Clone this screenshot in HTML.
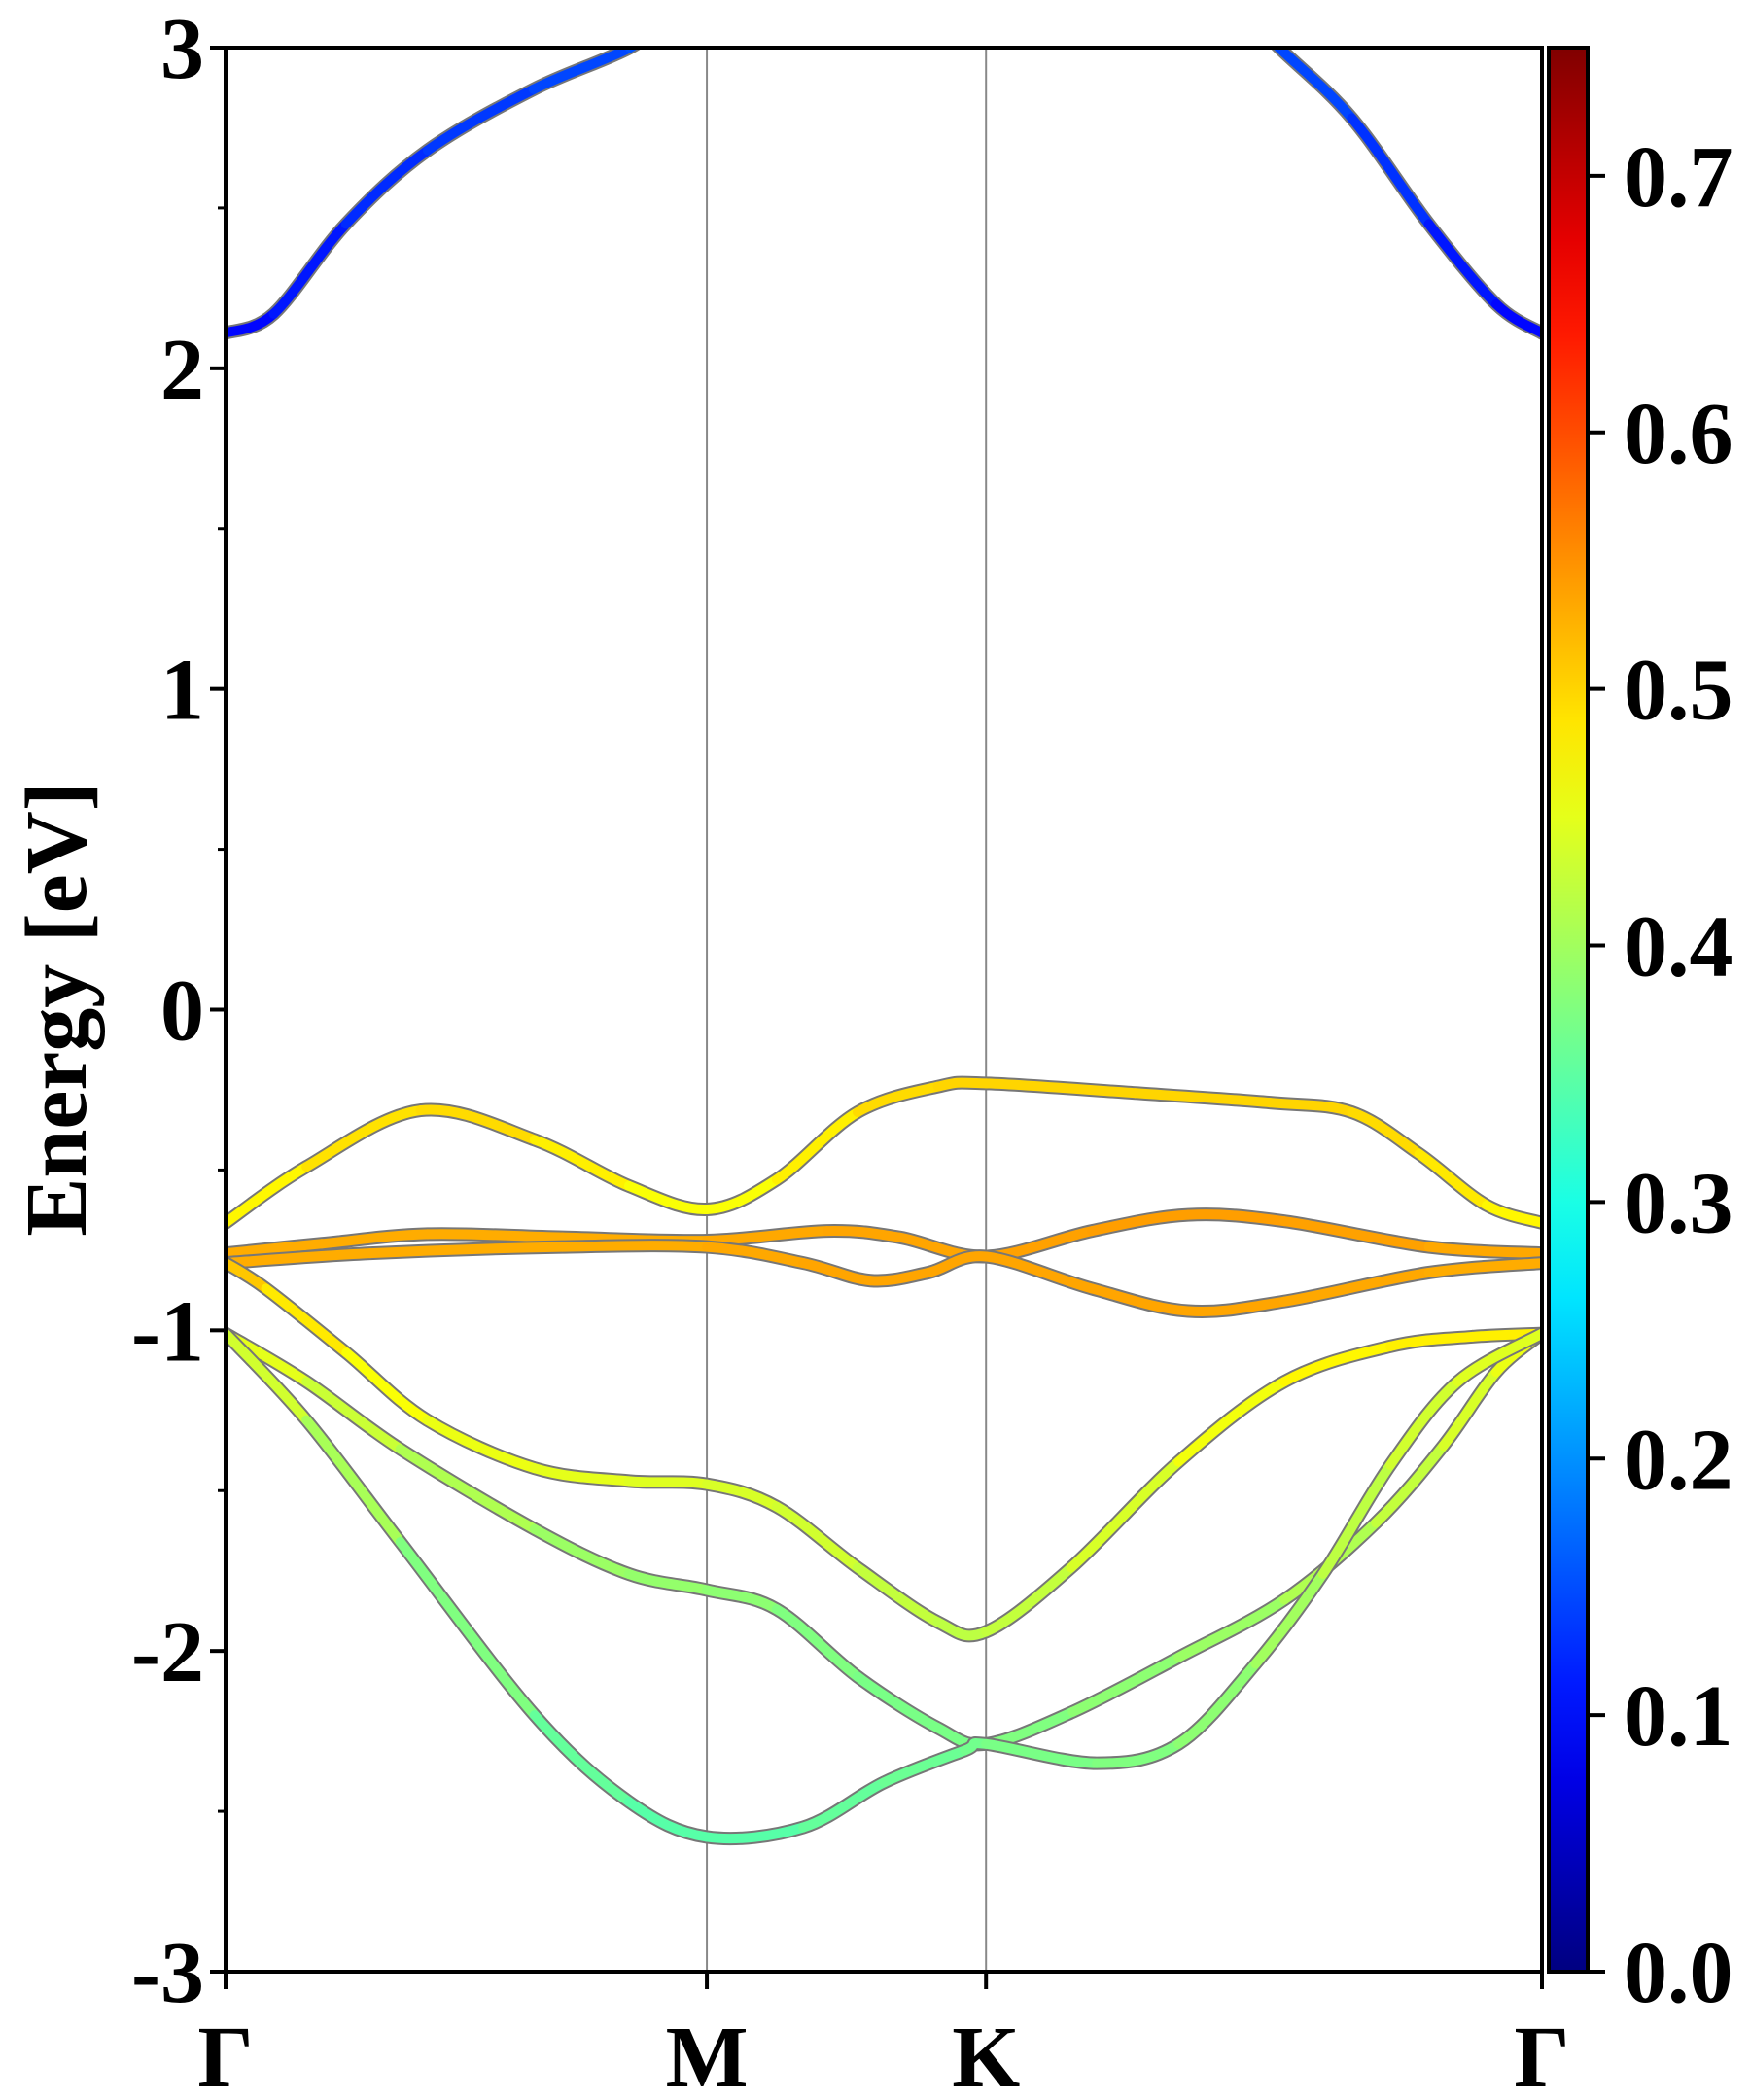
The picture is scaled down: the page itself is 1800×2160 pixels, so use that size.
<!DOCTYPE html>
<html><head><meta charset="utf-8"><style>
html,body{margin:0;padding:0;background:#fff;}
svg{display:block;font-family:"Liberation Serif",serif;font-weight:bold;}
</style></head><body>
<svg id="chart" width="1800" height="2160" viewBox="0 0 1800 2160">
<defs><clipPath id="clip"><rect x="232" y="49" width="1354" height="1979"/></clipPath>
<linearGradient id="cbgrad" x1="0" y1="1" x2="0" y2="0"></linearGradient></defs>
<g id="grid"></g>
<g id="bands" clip-path="url(#clip)"></g>
<g id="axes"></g>
<g id="cbar"></g>
<text transform="translate(88,1038) rotate(-90)" text-anchor="middle" font-size="90">Energy [eV]</text>
</svg>
<script>
const kLabels=["Γ","M","K","Γ"];
const kTicks=[0,1,1.58,2.735];
const yTicks=[-3,-2,-1,0,1,2,3];
const cbTicks=[0,0.1,0.2,0.3,0.4,0.5,0.6,0.7];
// band data: k, energy, weight
const cbK=[0,0.1,0.25,0.42,0.64,0.84,1.0,1.58,2.05,2.189,2.34,2.5,2.64,2.735];
const cbE=[2.11,2.17,2.45,2.68,2.87,3.0,3.15,3.4,3.2,3.0,2.78,2.45,2.2,2.11];
const cbW=[0.095,0.1,0.12,0.13,0.14,0.15,0.16,0.17,0.16,0.15,0.14,0.12,0.1,0.095];
const v1K=[0,0.168,0.405,0.642,0.838,1.0,1.145,1.313,1.48,1.58,1.89,2.17,2.34,2.48,2.62,2.735];
const v1E=[-0.665,-0.49,-0.314,-0.406,-0.55,-0.623,-0.53,-0.32,-0.24,-0.23,-0.26,-0.29,-0.32,-0.45,-0.61,-0.665];
const v1W=[0.47,0.48,0.5,0.49,0.47,0.46,0.47,0.49,0.5,0.5,0.5,0.5,0.5,0.49,0.48,0.47];
const v2K=[0,0.2,0.42,0.7,1.0,1.25,1.4,1.58,1.8,2.0,2.2,2.5,2.735];
const v2E=[-0.76,-0.73,-0.70,-0.71,-0.72,-0.69,-0.71,-0.77,-0.69,-0.64,-0.66,-0.74,-0.76];
const v2W=[0.53,0.53,0.53,0.53,0.53,0.535,0.535,0.535,0.54,0.54,0.54,0.535,0.53];
const v3K=[0,0.3,0.7,1.0,1.2,1.34,1.46,1.58,1.8,2.0,2.2,2.5,2.735];
const v3E=[-0.79,-0.76,-0.74,-0.74,-0.79,-0.845,-0.82,-0.77,-0.87,-0.94,-0.91,-0.82,-0.79];
const v3W=[0.53,0.53,0.53,0.53,0.535,0.535,0.535,0.535,0.535,0.535,0.535,0.53,0.53];
const v4K=[0,0.084,0.251,0.419,0.642,0.838,1.0,1.145,1.313,1.48,1.58,1.757,1.98,2.2,2.42,2.59,2.735];
const v4E=[-0.79,-0.87,-1.07,-1.28,-1.43,-1.47,-1.48,-1.55,-1.74,-1.91,-1.94,-1.74,-1.41,-1.16,-1.05,-1.02,-1.01];
const v4W=[0.52,0.5,0.47,0.46,0.45,0.45,0.44,0.44,0.43,0.42,0.42,0.43,0.45,0.47,0.48,0.48,0.48];
const v5K=[0,0.168,0.363,0.642,0.838,1.0,1.145,1.313,1.48,1.58,1.76,1.98,2.2,2.39,2.53,2.64,2.735];
const v5E=[-1.01,-1.16,-1.37,-1.62,-1.76,-1.81,-1.87,-2.08,-2.24,-2.29,-2.19,-2.02,-1.84,-1.6,-1.36,-1.13,-1.01];
const v5W=[0.46,0.44,0.42,0.4,0.39,0.39,0.38,0.37,0.37,0.37,0.38,0.39,0.4,0.42,0.43,0.45,0.46];
const v6K=[0,0.168,0.363,0.642,0.838,1.0,1.2,1.368,1.536,1.58,1.81,1.98,2.14,2.28,2.42,2.56,2.735];
const v6E=[-1.01,-1.28,-1.66,-2.2,-2.47,-2.58,-2.55,-2.41,-2.31,-2.29,-2.35,-2.29,-2.04,-1.76,-1.42,-1.16,-1.01];
const v6W=[0.45,0.42,0.39,0.36,0.35,0.34,0.35,0.36,0.36,0.37,0.37,0.38,0.39,0.41,0.43,0.44,0.45];
const bandsK=[cbK,v1K,v2K,v3K,v4K,v5K,v6K];
const bandsE=[cbE,v1E,v2E,v3E,v4E,v5E,v6E];
const bandsW=[cbW,v1W,v2W,v3W,v4W,v5W,v6W];

const L=232,R=1586,T=49,B=2028,KMAX=2.735,EMIN=-3,EMAX=3,WMAX=0.75;
const NS='http://www.w3.org/2000/svg';
const xS=k=>L+(k/KMAX)*(R-L);
const yS=e=>B-(e-EMIN)/(EMAX-EMIN)*(B-T);
function mk(tag,attrs,parent){const el=document.createElementNS(NS,tag);for(const a in attrs)el.setAttribute(a,attrs[a]);parent.appendChild(el);return el;}
function jet(t){t=Math.max(0,Math.min(1,t));const c=x=>Math.round(255*Math.max(0,Math.min(1,x)));
return `rgb(${c(1.5-Math.abs(4*t-3))},${c(1.5-Math.abs(4*t-2))},${c(1.5-Math.abs(4*t-1))})`;}
const gBands=document.getElementById('bands');
for(let b=0;b<bandsK.length;b++){
  const K=bandsK[b],E=bandsE[b],W=bandsW[b];
  const P=K.map((k,i)=>[xS(k),yS(E[i])]);
  const segs=[];
  for(let i=0;i<P.length-1;i++){
    const p0=P[Math.max(0,i-1)],p1=P[i],p2=P[i+1],p3=P[Math.min(P.length-1,i+2)];
    const c1=[p1[0]+(p2[0]-p0[0])/6,p1[1]+(p2[1]-p0[1])/6];
    const c2=[p2[0]-(p3[0]-p1[0])/6,p2[1]-(p3[1]-p1[1])/6];
    segs.push({d:`M${p1[0]},${p1[1]} C${c1[0]},${c1[1]} ${c2[0]},${c2[1]} ${p2[0]},${p2[1]}`,w:(W[i]+W[i+1])/2});
  }
  const g=mk('g',{},gBands);
  
  
  mk('path',{d:segs.map(s=>s.d).join(' '),fill:'none',stroke:'#777','stroke-width':14,'stroke-linecap':'round'},g);
  for(const s of segs){mk('path',{d:s.d,fill:'none',stroke:jet(s.w/WMAX),'stroke-width':10,'stroke-linecap':'round'},g);}
}
const gGrid=document.getElementById('grid');
kTicks.slice(1,3).forEach(k=>{const l=mk('line',{x1:xS(k),x2:xS(k),y1:T,y2:B,stroke:'#888','stroke-width':2},gGrid);

});
const gA=document.getElementById('axes');
mk('rect',{x:L,y:T,width:R-L,height:B-T,fill:'none',stroke:'#000','stroke-width':4},gA);
yTicks.forEach(v=>{const y=yS(v);mk('line',{x1:L-16,x2:L,y1:y,y2:y,stroke:'#000','stroke-width':4},gA);
const t=mk('text',{x:L-22,y:y+31,'text-anchor':'end','font-size':90},gA);t.textContent=String(v);


if(v<3){const ym=yS(v+0.5);mk('line',{x1:L-8,x2:L,y1:ym,y2:ym,stroke:'#000','stroke-width':3},gA);}});
kTicks.forEach((k,i)=>{const x=xS(k);mk('line',{x1:x,x2:x,y1:B,y2:B+18,stroke:'#000','stroke-width':4},gA);
const t=mk('text',{x:x,y:B+118,'text-anchor':'middle','font-size':90},gA);t.textContent=kLabels[i];

});
const grad=document.getElementById('cbgrad');
for(let i=0;i<=20;i++){mk('stop',{offset:(i/20),'stop-color':jet(i/20)},grad);}
const gC=document.getElementById('cbar');
const CL=1593,CR=1633;const cy=v=>B-(v/WMAX)*(B-T);
mk('rect',{x:CL,y:T,width:CR-CL,height:B-T,fill:'url(#cbgrad)',stroke:'#000','stroke-width':4},gC);
cbTicks.forEach(v=>{const y=cy(v);mk('line',{x1:CR,x2:CR+18,y1:y,y2:y,stroke:'#000','stroke-width':4},gC);
const t=mk('text',{x:1670,y:y+31,'font-size':90},gC);t.textContent=v.toFixed(1);

});
</script>
</body></html>
